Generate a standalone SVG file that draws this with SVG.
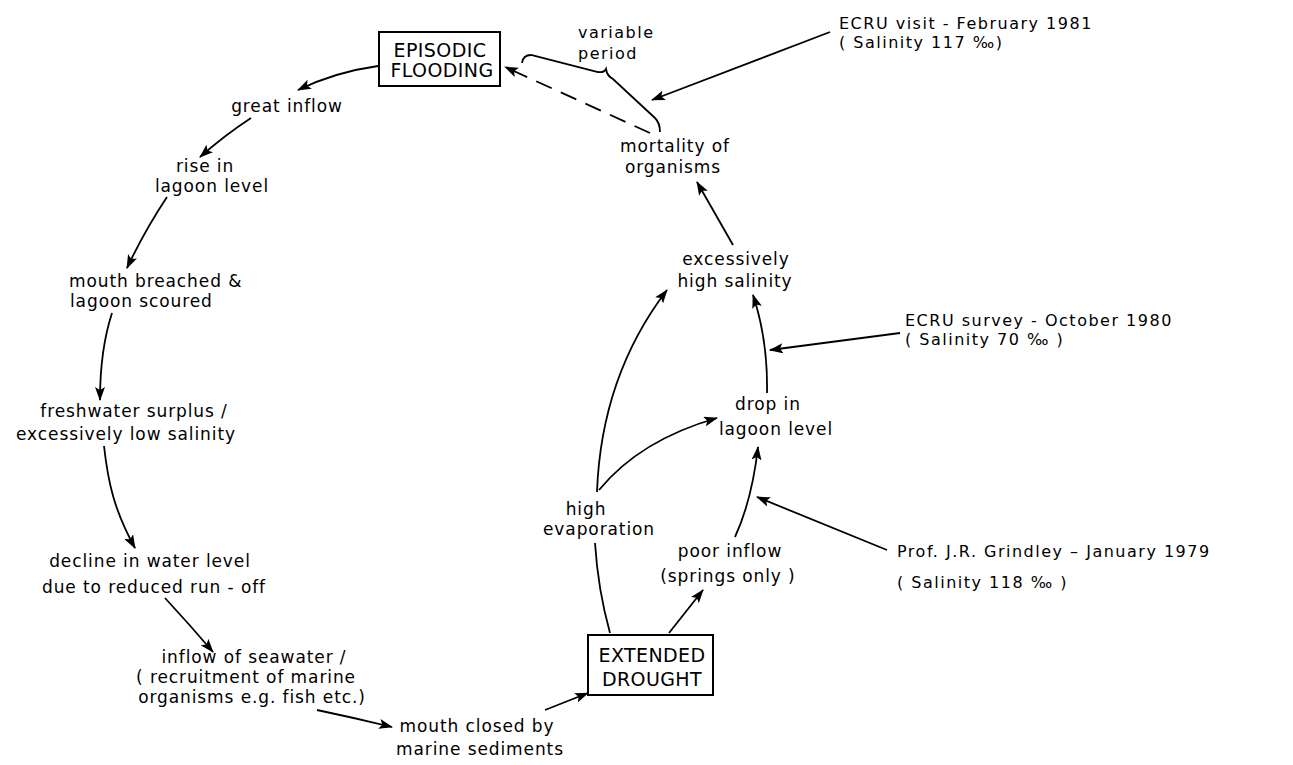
<svg xmlns="http://www.w3.org/2000/svg" width="1293" height="765" viewBox="0 0 1293 765">
<style>
text{font-family:"DejaVu Sans","Liberation Sans",sans-serif;fill:#000}
.lbl{font-size:17px;letter-spacing:0.9px;text-anchor:middle}
.lbl-s{font-size:17px;letter-spacing:0.9px}
.ann{font-size:16px;letter-spacing:1.5px}
.box{fill:#fff;stroke:#000;stroke-width:2}
.boxt{font-size:19px;letter-spacing:0.4px;text-anchor:middle}
.c{fill:none;stroke:#000;stroke-width:1.8}
.d{stroke-dasharray:17 10}
</style>
<defs>
<marker id="ah" viewBox="0 0 14 10" refX="13" refY="5" markerWidth="14" markerHeight="10" markerUnits="userSpaceOnUse" orient="auto">
<path d="M0,0 L14,5 L0,10 L3,5 z" fill="#000"/>
</marker>
</defs>
<rect width="1293" height="765" fill="#fff"/>

<g id="connectors">
<path class="c" d="M378,66 Q335,72 298,90" marker-end="url(#ah)"/>
<path class="c" d="M251,118 Q225,135 200,157" marker-end="url(#ah)"/>
<path class="c" d="M167,197 Q145,230 127,268" marker-end="url(#ah)"/>
<path class="c" d="M112,313 Q100,350 100,400" marker-end="url(#ah)"/>
<path class="c" d="M104,446 C108,482 114,510 135,548" marker-end="url(#ah)"/>
<path class="c" d="M165,598 Q190,625 213,652" marker-end="url(#ah)"/>
<path class="c" d="M317,710 Q355,718 392,727" marker-end="url(#ah)"/>
<path class="c" d="M545,710 L588,693" marker-end="url(#ah)"/>
<path class="c" d="M610,633 Q598,590 595,543"/>
<path class="c" d="M669,633 L703,590" marker-end="url(#ah)"/>
<path class="c" d="M735,537 Q752,500 758,447" marker-end="url(#ah)"/>
<path class="c" d="M597,492 C600,410 625,345 667,290" marker-end="url(#ah)"/>
<path class="c" d="M599,490 Q640,440 717,418" marker-end="url(#ah)"/>
<path class="c" d="M767,393 Q768,340 753,295" marker-end="url(#ah)"/>
<path class="c" d="M733,245 L697,182" marker-end="url(#ah)"/>
<path class="c d" d="M650,133 L505,67" marker-end="url(#ah)"/>
<path class="c" d="M830,32 L652,100" marker-end="url(#ah)"/>
<path class="c" d="M900,333 L770,350" marker-end="url(#ah)"/>
<path class="c" d="M887,550 L757,497" marker-end="url(#ah)"/>
<path class="c" d="M522,63 Q523,55 531,55 L598,72 Q604,73 606,69 Q607,76 613,79 L655,118 Q660,123 660,132"/>
</g>

<g id="episodic-flooding">
<rect class="box" x="379" y="32" width="121" height="54"/>
<text class="boxt" x="440" y="57">EPISODIC</text>
<text class="boxt" x="442" y="77">FLOODING</text>
</g>
<g id="variable-period">
<text class="ann" x="578" y="38">variable</text>
<text class="ann" x="578" y="59">period</text>
</g>
<g id="great-inflow">
<text class="lbl" x="287" y="112">great  inflow</text>
</g>
<g id="rise-in-lagoon-level">
<text class="lbl" x="205" y="172">rise  in</text>
<text class="lbl" x="212" y="192">lagoon level</text>
</g>
<g id="mouth-breached">
<text class="lbl-s" x="69" y="287">mouth breached &amp;</text>
<text class="lbl-s" x="70" y="307">lagoon scoured</text>
</g>
<g id="freshwater-surplus">
<text class="lbl" x="134" y="417">freshwater surplus /</text>
<text class="lbl" x="126" y="440">excessively low  salinity</text>
</g>
<g id="decline-water-level">
<text class="lbl" x="150" y="567">decline in water level</text>
<text class="lbl" x="154" y="593">due to reduced run - off</text>
</g>
<g id="inflow-seawater">
<text class="lbl" x="254" y="663">inflow of seawater /</text>
<text class="lbl" x="246" y="683">( recruitment of marine</text>
<text class="lbl" x="252" y="703">organisms  e.g. fish etc.)</text>
</g>
<g id="mouth-closed">
<text class="lbl" x="477" y="732">mouth closed by</text>
<text class="lbl" x="480" y="755">marine  sediments</text>
</g>
<g id="extended-drought">
<rect class="box" x="588" y="635" width="125" height="60"/>
<text class="boxt" x="652" y="662">EXTENDED</text>
<text class="boxt" x="652" y="686">DROUGHT</text>
</g>
<g id="high-evaporation">
<text class="lbl" x="586" y="515">high</text>
<text class="lbl" x="599" y="535">evaporation</text>
</g>
<g id="poor-inflow">
<text class="lbl" x="730" y="557">poor  inflow</text>
<text class="lbl" x="728" y="582">(springs  only )</text>
</g>
<g id="drop-in-lagoon-level">
<text class="lbl" x="768" y="410">drop  in</text>
<text class="lbl" x="776" y="435">lagoon level</text>
</g>
<g id="excessively-high-salinity">
<text class="lbl" x="736" y="265">excessively</text>
<text class="lbl" x="735" y="287">high  salinity</text>
</g>
<g id="mortality">
<text class="lbl" x="675" y="152">mortality  of</text>
<text class="lbl" x="673" y="173">organisms</text>
</g>
<g id="ecru-visit">
<text class="ann" x="839" y="29">ECRU  visit - February 1981</text>
<text class="ann" x="839" y="48">( Salinity  117 ‰)</text>
</g>
<g id="ecru-survey">
<text class="ann" x="905" y="326">ECRU survey - October 1980</text>
<text class="ann" x="905" y="345">( Salinity  70 ‰ )</text>
</g>
<g id="grindley">
<text class="ann" x="897" y="557">Prof.  J.R. Grindley – January 1979</text>
<text class="ann" x="897" y="588">( Salinity  118 ‰ )</text>
</g>
</svg>
